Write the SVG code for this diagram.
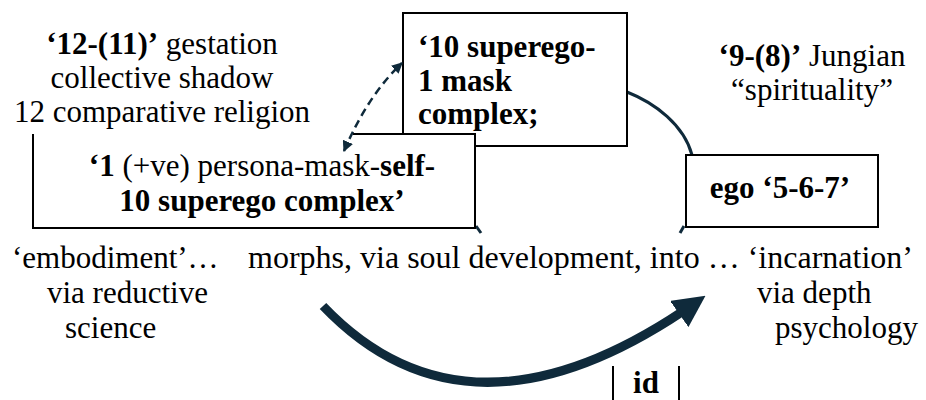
<svg xmlns="http://www.w3.org/2000/svg" width="926" height="400" viewBox="0 0 926 400">
<style>
text{font-family:"Liberation Serif","Times New Roman",serif;font-size:31px;fill:#000}
.b{font-weight:bold}
.box{fill:#fff;stroke:#000;stroke-width:2}
.c{text-anchor:middle}
.conn{fill:none;stroke:#0f2a3b}
</style>
<defs>
<marker id="ah" viewBox="0 0 10 10" refX="9" refY="5" markerWidth="11" markerHeight="11" markerUnits="userSpaceOnUse" orient="auto">
<path d="M0,0 L10,5 L0,10 z" fill="#0f2a3b"/>
</marker>
<marker id="ahs" viewBox="0 0 10 10" refX="1" refY="5" markerWidth="11" markerHeight="11" markerUnits="userSpaceOnUse" orient="auto">
<path d="M10,0 L0,5 L10,10 z" fill="#0f2a3b"/>
</marker>
<marker id="big" viewBox="0 0 10 10" refX="6" refY="5" markerWidth="32" markerHeight="32" markerUnits="userSpaceOnUse" orient="auto">
<path d="M0,0 L10,5 L0,10 z" fill="#0f2a3b"/>
</marker>
</defs>
<g id="cycle-arc">
<path class="conn" stroke-width="3" d="M627,92 C655,103 684,125 692,155"/>
<path class="conn" stroke-width="3" d="M476,226 L481,233"/>
<path class="conn" stroke-width="3" d="M684,226 L680,233"/>
</g>
<g id="label-gestation">
<text class="c" x="162" y="54"><tspan class="b">‘12-(11)’</tspan> gestation</text>
<text class="c" x="162" y="88">collective shadow</text>
<text class="c" x="162" y="122">12 comparative religion</text>
</g>
<g id="node-superego">
<rect class="box" x="403" y="13" width="224" height="133"/>
<text class="b" x="418" y="57">‘10 superego-</text>
<text class="b" x="418" y="91">1 mask</text>
<text class="b" x="418" y="124">complex;</text>
</g>
<g id="label-jungian">
<text class="c" x="812" y="66"><tspan class="b">‘9-(8)’</tspan> Jungian</text>
<text class="c" x="812" y="100">“spirituality”</text>
</g>
<g id="node-persona">
<rect x="33" y="134" width="442" height="94" fill="#fff"/>
<path d="M353,134 H475 V228 H33 V134" fill="none" stroke="#000" stroke-width="2"/>
<text class="c" x="262" y="176"><tspan class="b">‘1</tspan> (+ve) persona-mask-<tspan class="b">self-</tspan></text>
<text class="c b" x="262" y="211">10 superego complex’</text>
</g>
<g id="node-ego">
<rect class="box" x="686" y="155" width="192" height="72"/>
<text class="c b" x="780" y="198">ego ‘5-6-7’</text>
</g>
<g id="label-bottom">
<text x="12" y="268">‘embodiment’…</text>
<text x="248" y="268" textLength="665" lengthAdjust="spacingAndGlyphs">morphs, via soul development, into … ‘incarnation’</text>
<text x="47" y="303">via reductive</text>
<text x="65" y="338">science</text>
<text x="757" y="303">via depth</text>
<text x="775" y="338">psychology</text>
</g>
<g id="node-id">
<path d="M613,366 V400 M679,366 V400" stroke="#000" stroke-width="2"/>
<text class="b c" x="646" y="393">id</text>
</g>
<g id="connectors">
<path class="conn" stroke-width="2.5" stroke-dasharray="8,5" marker-start="url(#ahs)" marker-end="url(#ah)" d="M344,151 Q368,95 402,63"/>
<path class="conn" stroke-width="9" marker-end="url(#big)" d="M323,306 Q470,460 695,303"/>
</g>
</svg>
